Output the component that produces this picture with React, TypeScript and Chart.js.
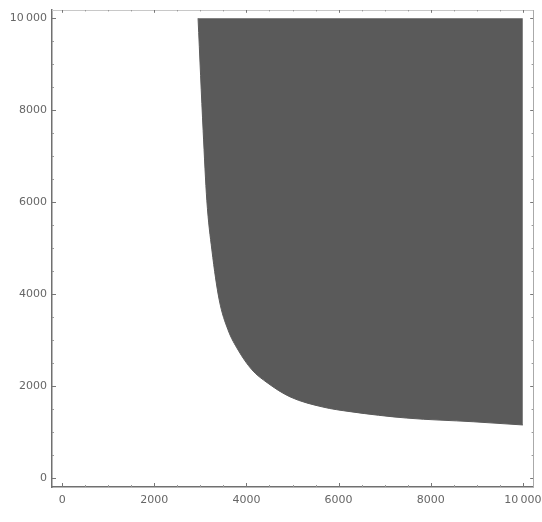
import React, { useEffect, useRef } from "react";
import { Chart, registerables } from "chart.js";

Chart.register(...registerables);

// Boundary of the shaded region
const boundaryX = [2950, 3060, 3140, 3250, 3410, 3600, 3820, 4120, 4450, 4950, 5660, 6250, 7480, 8920, 10000];
const boundaryY = [10000, 7560, 6040, 4960, 3870, 3220, 2780, 2350, 2070, 1760, 1540, 1440, 1300, 1220, 1150];
const regionTop = 10000;

const majorTicks = [0, 2000, 4000, 6000, 8000, 10000];
const majorLabels = ["0", "2000", "4000", "6000", "8000", "10\u2009000"];
const minorTicks = [500, 1000, 1500, 2500, 3000, 3500, 4500, 5000, 5500, 6500, 7000, 7500, 8500, 9000, 9500];

const frameTicks = {
  id: "frameTicks",
  afterDraw(chart: any) {
    const { ctx, chartArea } = chart;
    const xs = chart.scales.x;
    const ys = chart.scales.y;
    ctx.save();
    ctx.strokeStyle = "#c8c8c8";
    ctx.lineWidth = 1;
    ctx.beginPath();
    ctx.moveTo(chartArea.left, chartArea.top + 0.5);
    ctx.lineTo(chartArea.right, chartArea.top + 0.5);
    ctx.stroke();
    ctx.strokeStyle = "#aaaaaa";
    ctx.beginPath();
    ctx.moveTo(chartArea.right + 0.5, chartArea.top);
    ctx.lineTo(chartArea.right + 0.5, chartArea.bottom);
    ctx.stroke();
    const drawSet = (vals: number[], len: number, color: string) => {
      ctx.strokeStyle = color;
      ctx.lineWidth = 1;
      ctx.beginPath();
      for (const v of vals) {
        const px = Math.round(xs.getPixelForValue(v)) + 0.5;
        ctx.moveTo(px, chartArea.bottom);
        ctx.lineTo(px, chartArea.bottom - len);
        ctx.moveTo(px, chartArea.top);
        ctx.lineTo(px, chartArea.top + len * 0.7);
        const py = Math.round(ys.getPixelForValue(v)) + 0.5;
        ctx.moveTo(chartArea.left, py);
        ctx.lineTo(chartArea.left + len, py);
        ctx.moveTo(chartArea.right, py);
        ctx.lineTo(chartArea.right - len * 0.7, py);
      }
      ctx.stroke();
    };
    drawSet(majorTicks, 4, "#777777");
    drawSet(minorTicks, 2, "#999999");
    ctx.restore();
  },
};

export default function App() {
  const ref = useRef<HTMLCanvasElement | null>(null);
  useEffect(() => {
    document.body.style.margin = "0";
    const data = boundaryX.map((x, i) => ({ x, y: boundaryY[i] }));
    const chart = new Chart(ref.current as HTMLCanvasElement, {
      type: "line",
      data: {
        datasets: [
          {
            data,
            borderColor: "#5a5a5a",
            backgroundColor: "#5a5a5a",
            borderWidth: 1,
            pointRadius: 0,
            cubicInterpolationMode: "monotone",
            fill: { value: regionTop },
          },
        ],
      },
      options: {
        animation: false,
        responsive: false,
        maintainAspectRatio: false,
        layout: { padding: { top: 10, right: 9, left: 0, bottom: 0 } },
        plugins: { legend: { display: false }, tooltip: { enabled: false } },
        scales: {
          x: {
            type: "linear",
            min: -220,
            max: 10220,
            grid: { display: false, drawTicks: false },
            border: { display: true, color: "#707070", width: 1.5 },
            afterBuildTicks: (s: any) => {
              s.ticks = majorTicks.map((v) => ({ value: v }));
            },
            afterFit: (s: any) => {
              s.height = 35;
              s.paddingLeft = 0;
              s.paddingRight = 0;
            },
            ticks: {
              padding: 7,
              color: "#666666",
              font: { family: "DejaVu Sans", size: 11 },
              maxRotation: 0,
              autoSkip: false,
              callback: (v: any) => majorLabels[majorTicks.indexOf(Number(v))] ?? "",
            },
          },
          y: {
            type: "linear",
            min: -200,
            max: 10180,
            grid: { display: false, drawTicks: false },
            border: { display: true, color: "#707070", width: 1.5 },
            afterBuildTicks: (s: any) => {
              s.ticks = majorTicks.map((v) => ({ value: v }));
            },
            afterFit: (s: any) => {
              s.width = 52;
              s.paddingTop = 0;
              s.paddingBottom = 0;
            },
            ticks: {
              padding: 5,
              color: "#666666",
              font: { family: "DejaVu Sans", size: 11 },
              autoSkip: false,
              callback: (v: any) => majorLabels[majorTicks.indexOf(Number(v))] ?? "",
            },
          },
        },
      },
      plugins: [frameTicks],
    } as any);
    return () => chart.destroy();
  }, []);
  return (
    <div style={{ width: 542, height: 522, background: "#ffffff" }}>
      <canvas ref={ref} width={542} height={522} style={{ display: "block" }} />
    </div>
  );
}
